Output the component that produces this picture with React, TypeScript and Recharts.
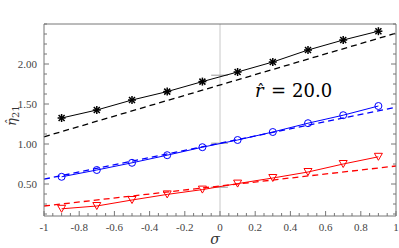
import { LineChart, Line, XAxis, YAxis, ReferenceLine } from "recharts";

// sigma positions of the markers
const sigma = [-0.9, -0.7, -0.5, -0.3, -0.1, 0.1, 0.3, 0.5, 0.7, 0.9];
const starVals = [1.325, 1.425, 1.55, 1.655, 1.78, 1.9, 2.025, 2.175, 2.3, 2.41];
const circleVals = [0.59, 0.675, 0.765, 0.86, 0.96, 1.05, 1.15, 1.26, 1.36, 1.475];
const triVals = [0.19, 0.225, 0.3, 0.37, 0.43, 0.505, 0.575, 0.65, 0.75, 0.84];

// dashed reference lines, read at sigma = -1 and 1
const dashSigma = [-1, 1];
const starDash = [1.09, 2.385];
const circleDash = [0.56, 1.46];
const triDash = [0.225, 0.725];

// small grey segments near sigma = 0
const graySigma = [-0.05, 0.045];
const grayVals = [1.86, 1.01, 0.46];

const xMajor = [-1, -0.8, -0.6, -0.4, -0.2, 0, 0.2, 0.4, 0.6, 0.8, 1];
const xLabels = ["-1", "-0.8", "-0.6", "-0.4", "-0.2", "0", "0.2", "0.4", "0.6", "0.8", "1"];
const yMajor = [0.5, 1, 1.5, 2];
const yLabels = ["0.50", "1.00", "1.50", "2.00"];

const r3 = (v: number) => Math.round(v * 1000) / 1000;
// minor ticks: 4 per x-major, 4 per y-major
const xTicks: number[] = [];
for (let i = 0; i <= 40; i++) xTicks.push(r3(-1 + i * 0.05));
const yTicks: number[] = [];
for (let i = 1; i <= 20; i++) yTicks.push(r3(i * 0.125));

const pts = (xs: number[], ys: number[]) => xs.map((s, i) => ({ s, v: ys[i] }));

const AXIS = "#777";
const LABEL = "#444";
const SERIF = "'Liberation Serif', 'DejaVu Serif', serif";
const MATH = "'DejaVu Serif', serif";

const BottomTick = ({ x, y, payload }: any) => {
	const v = r3(payload.value);
	const k = xMajor.indexOf(v);
	return (
		<g>
			<line x1={x} x2={x} y1={y} y2={y - (k >= 0 ? 5 : 3)} stroke={AXIS} />
			{k >= 0 && (
				<text x={x} y={y + 15} textAnchor="middle" fill={LABEL} style={{ fontFamily: SERIF, fontSize: 11 }}>
					{xLabels[k]}
				</text>
			)}
		</g>
	);
};

const TopTick = ({ x, y, payload }: any) => {
	const major = xMajor.includes(r3(payload.value));
	return <line x1={x} x2={x} y1={y} y2={y + (major ? 5 : 3)} stroke={AXIS} />;
};

const LeftTick = ({ x, y, payload }: any) => {
	const v = r3(payload.value);
	const k = yMajor.indexOf(v);
	return (
		<g>
			<line x1={x} x2={x + (k >= 0 ? 5 : 3)} y1={y} y2={y} stroke={AXIS} />
			{k >= 0 && (
				<text x={x - 7} y={y + 4} textAnchor="end" fill={LABEL} style={{ fontFamily: SERIF, fontSize: 11 }}>
					{yLabels[k]}
				</text>
			)}
		</g>
	);
};

const RightTick = ({ x, y, payload }: any) => {
	const major = yMajor.includes(r3(payload.value));
	return <line x1={x} x2={x - (major ? 5 : 3)} y1={y} y2={y} stroke={AXIS} />;
};

const Star = ({ cx, cy }: any) => (
	<g stroke="#000" strokeWidth={1.5}>
		<line x1={cx - 4} x2={cx + 4} y1={cy} y2={cy} />
		<line x1={cx} x2={cx} y1={cy - 4} y2={cy + 4} />
		<line x1={cx - 3} x2={cx + 3} y1={cy - 3} y2={cy + 3} />
		<line x1={cx - 3} x2={cx + 3} y1={cy + 3} y2={cy - 3} />
	</g>
);

const Circle = ({ cx, cy }: any) => (
	<circle cx={cx} cy={cy} r={3.5} fill="none" stroke="#0000ff" strokeWidth={1} />
);

const Tri = ({ cx, cy }: any) => (
	<polygon
		points={`${cx - 4},${cy - 3.5} ${cx + 4},${cy - 3.5} ${cx},${cy + 3.5}`}
		fill="none"
		stroke="#ff0000"
		strokeWidth={1}
	/>
);

export default function App() {
	return (
		<div style={{ position: "absolute", left: 0, top: 0, width: 399, height: 248, background: "#fff" }}>
			<LineChart width={399} height={248} margin={{ top: 0, right: 0, bottom: 0, left: 0 }}>
				<XAxis
					xAxisId="b"
					dataKey="s"
					type="number"
					domain={[-1, 1]}
					ticks={xTicks}
					interval={0}
					tickSize={0}
					tickMargin={0}
					height={32}
					stroke={AXIS}
					tick={<BottomTick />}
				/>
				<XAxis
					xAxisId="t"
					orientation="top"
					dataKey="s"
					type="number"
					domain={[-1, 1]}
					ticks={xTicks}
					interval={0}
					tickSize={0}
					tickMargin={0}
					height={24}
					stroke={AXIS}
					tick={<TopTick />}
				/>
				<YAxis
					yAxisId="l"
					type="number"
					domain={[0.1, 2.5]}
					ticks={yTicks}
					interval={0}
					tickSize={0}
					tickMargin={0}
					width={44}
					stroke={AXIS}
					tick={<LeftTick />}
					allowDataOverflow
				/>
				<YAxis
					yAxisId="r"
					orientation="right"
					type="number"
					domain={[0.1, 2.5]}
					ticks={yTicks}
					interval={0}
					tickSize={0}
					tickMargin={0}
					width={3}
					stroke={AXIS}
					tick={<RightTick />}
					allowDataOverflow
				/>
				<ReferenceLine xAxisId="b" yAxisId="l" x={0} stroke="#c8c8c8" strokeWidth={1} />

				{grayVals.map((g, i) => (
					<Line
						key={"g" + i}
						xAxisId="b"
						yAxisId="l"
						data={pts(graySigma, [g, g])}
						dataKey="v"
						stroke="#999"
						strokeWidth={1}
						dot={false}
						isAnimationActive={false}
					/>
				))}

				<Line xAxisId="b" yAxisId="l" data={pts(dashSigma, starDash)} dataKey="v" stroke="#000" strokeWidth={1.3} strokeDasharray="6 4" dot={false} isAnimationActive={false} />
				<Line xAxisId="b" yAxisId="l" data={pts(dashSigma, circleDash)} dataKey="v" stroke="#0000ff" strokeWidth={1.3} strokeDasharray="6 4" dot={false} isAnimationActive={false} />
				<Line xAxisId="b" yAxisId="l" data={pts(dashSigma, triDash)} dataKey="v" stroke="#ff0000" strokeWidth={1.3} strokeDasharray="6 4" dot={false} isAnimationActive={false} />

				<Line xAxisId="b" yAxisId="l" data={pts(sigma, starVals)} dataKey="v" type="linear" stroke="#000" strokeWidth={1} dot={<Star />} isAnimationActive={false} />
				<Line xAxisId="b" yAxisId="l" data={pts(sigma, circleVals)} dataKey="v" type="linear" stroke="#0000ff" strokeWidth={1} dot={<Circle />} isAnimationActive={false} />
				<Line xAxisId="b" yAxisId="l" data={pts(sigma, triVals)} dataKey="v" type="linear" stroke="#ff0000" strokeWidth={1} dot={<Tri />} isAnimationActive={false} />
			</LineChart>

			<svg width={399} height={248} style={{ position: "absolute", left: 0, top: 0, pointerEvents: "none" }}>
				{/* y-axis label */}
				<g transform="translate(16,116) rotate(-90)" fill="#333" style={{ fontFamily: MATH }}>
					<text x={-10} y={0} style={{ fontSize: 13, fontStyle: "italic" }}>η</text>
					<text x={-8} y={-2} style={{ fontSize: 11 }}>ˆ</text>
					<text x={-2} y={3} style={{ fontSize: 10 }}>21</text>
				</g>
				{/* x-axis label */}
				<text x={215} y={244} textAnchor="middle" fill="#333" style={{ fontFamily: MATH, fontSize: 14, fontStyle: "italic" }}>
					σ
				</text>
				{/* annotation */}
				<g fill="#000" style={{ fontFamily: MATH }}>
					<text x={255} y={97} style={{ fontSize: 18, fontStyle: "italic" }}>r</text>
					<text x={257} y={95} style={{ fontSize: 15 }}>ˆ</text>
					<text x={271} y={97} style={{ fontSize: 18 }}>=</text>
					<text x={292} y={97} style={{ fontSize: 18 }}>20.0</text>
				</g>
			</svg>
		</div>
	);
}
